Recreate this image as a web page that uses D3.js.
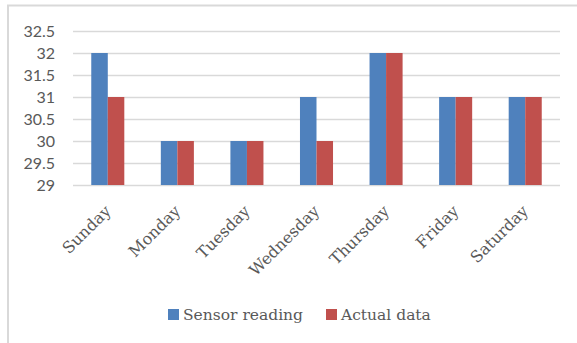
<!DOCTYPE html>
<html>
<head>
<meta charset="utf-8">
<script src="https://cdn.jsdelivr.net/npm/d3@7"></script>
<style>
  html, body { margin: 0; padding: 0; background: #fff; }
  svg { display: block; }
</style>
</head>
<body>
<svg id="chart" width="577" height="343"></svg>
<script>
// Daily temperature: sensor vs actual
const days = ["Sunday", "Monday", "Tuesday", "Wednesday", "Thursday", "Friday", "Saturday"];
const sensorReading = [32, 30, 30, 31, 32, 31, 31];
const actualData = [31, 30, 30, 30, 32, 31, 31];
const yTicks = [29, 29.5, 30, 30.5, 31, 31.5, 32, 32.5];
const seriesNames = ["Sensor reading", "Actual data"];
const seriesColors = ["#4f81bd", "#c0504d"];

const svg = d3.select("#chart");
const W = 577, H = 343;
const plot = { left: 73, right: 560, top: 31, bottom: 185 };

// chart frame (left and top edges)
svg.append("line").attr("x1", 8).attr("x2", 8).attr("y1", 5).attr("y2", H)
  .attr("stroke", "#d9d9d9").attr("stroke-width", 2);
svg.append("line").attr("x1", 7).attr("x2", W).attr("y1", 5.5).attr("y2", 5.5)
  .attr("stroke", "#d9d9d9").attr("stroke-width", 2);

const x = d3.scaleBand().domain(days).range([plot.left, plot.right]).paddingInner(0).paddingOuter(0);
const bandPad = 0.525;
const y = d3.scaleLinear().domain([29, 32.5]).range([plot.bottom, plot.top]);

// gridlines + y labels
const yAxis = d3.axisLeft(y).tickValues(yTicks).tickSize(-(plot.right - plot.left))
  .tickPadding(18).tickFormat(d => d3.format("")(d));
const gy = svg.append("g").attr("transform", `translate(${plot.left},0)`).call(yAxis);
gy.select(".domain").remove();
gy.selectAll(".tick line").attr("stroke", "#d9d9d9").attr("stroke-width", 1.5);
gy.selectAll(".tick text")
  .attr("fill", "#595959")
  .style("font-family", "Lato, 'Open Sans', sans-serif")
  .style("font-size", "16px");

// bars
const inner = d3.scaleBand().domain([0, 1])
  .range([0, x.bandwidth() * (1 - bandPad)]);
const groups = svg.append("g").selectAll("g").data(days).join("g")
  .attr("transform", d => `translate(${x(d) + x.bandwidth() * bandPad / 2},0)`);
groups.selectAll("rect")
  .data((d, i) => [sensorReading[i], actualData[i]])
  .join("rect")
  .attr("x", (v, j) => inner(j))
  .attr("width", inner.bandwidth())
  .attr("y", v => y(v))
  .attr("height", v => y(29) - y(v))
  .attr("fill", (v, j) => seriesColors[j]);

// x labels, rotated
const xAxis = d3.axisBottom(x).tickSize(0).tickPadding(0);
const gx = svg.append("g").attr("transform", `translate(0,${plot.bottom})`).call(xAxis);
gx.select(".domain").remove();
gx.selectAll(".tick text")
  .attr("fill", "#595959")
  .style("font-family", "'DejaVu Serif', serif")
  .style("font-size", "16px")
  .attr("text-anchor", "end")
  .attr("dy", null)
  .attr("y", 0)
  .attr("transform", "translate(4,27) rotate(-45)");

// legend
const legend = svg.append("g");
const legendX = [168, 326];
seriesNames.forEach((name, i) => {
  legend.append("rect").attr("x", legendX[i]).attr("y", 309)
    .attr("width", 11).attr("height", 11).attr("fill", seriesColors[i]);
  legend.append("text").attr("x", legendX[i] + 15).attr("y", 320)
    .attr("fill", "#595959")
    .style("font-family", "'DejaVu Serif', serif")
    .style("font-size", "15.5px")
    .text(name);
});
</script>
</body>
</html>
